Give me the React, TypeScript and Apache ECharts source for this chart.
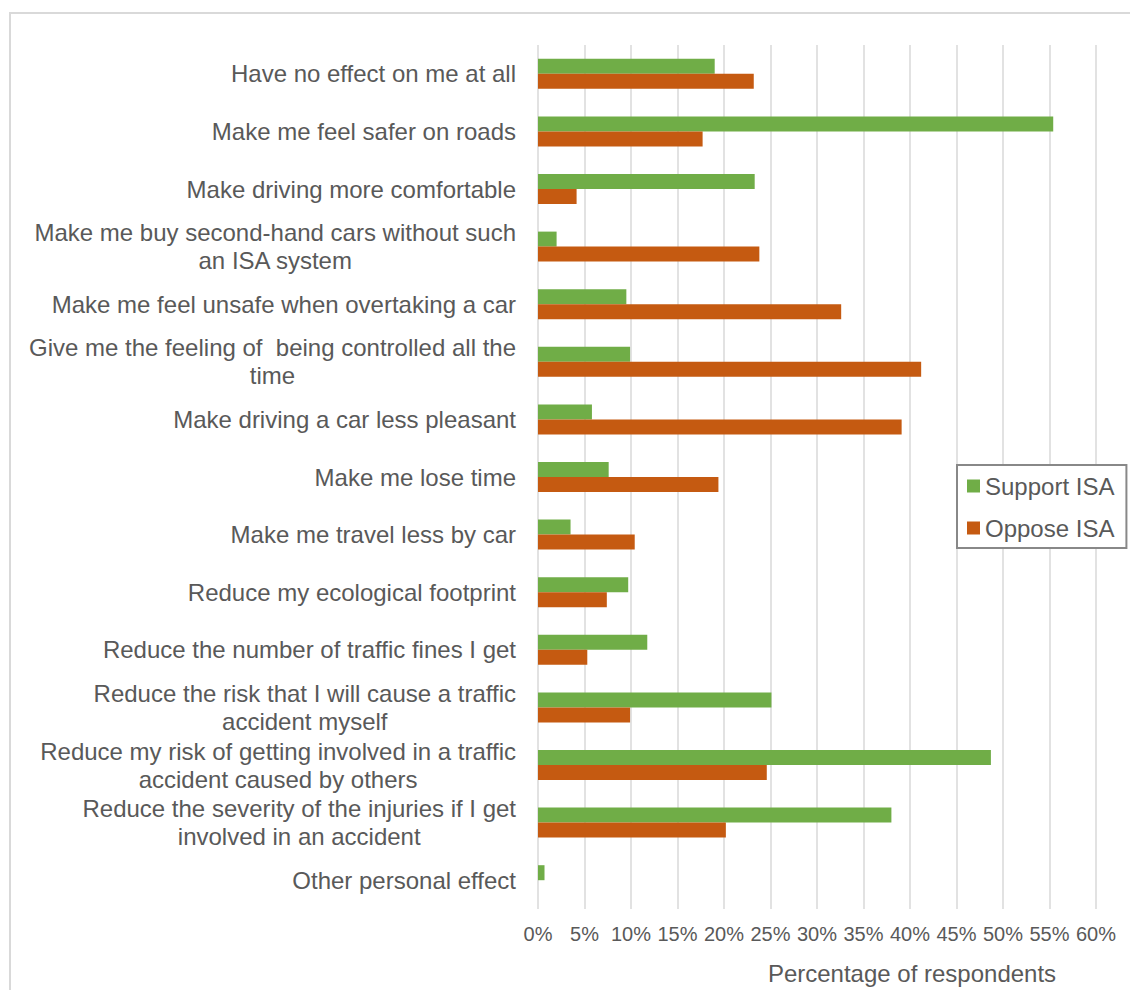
import React, { useEffect, useRef } from "react";
import * as echarts from "echarts";

const categories = [
  "Have no effect on me at all",
  "Make me feel safer on roads",
  "Make driving more comfortable",
  "Make me buy second-hand cars without such\nan ISA system",
  "Make me feel unsafe when overtaking a car",
  "Give me the feeling of  being controlled all the\ntime",
  "Make driving a car less pleasant",
  "Make me lose time",
  "Make me travel less by car",
  "Reduce my ecological footprint",
  "Reduce the number of traffic fines I get",
  "Reduce the risk that I will cause a traffic\naccident myself",
  "Reduce my risk of getting involved in a traffic\naccident caused by others",
  "Reduce the severity of the injuries if I get\ninvolved in an accident",
  "Other personal effect",
];

const supportISA = [19.0, 55.4, 23.3, 2.0, 9.5, 9.9, 5.8, 7.6, 3.5, 9.7, 11.75, 25.1, 48.7, 38.0, 0.7];
const opposeISA = [23.2, 17.7, 4.15, 23.8, 32.6, 41.2, 39.1, 19.4, 10.4, 7.4, 5.3, 9.9, 24.6, 20.2, 0];

const seriesNames = ["Support ISA", "Oppose ISA"];
const axisTitle = "Percentage of respondents";

export default function App() {
  const ref = useRef<HTMLDivElement>(null);
  useEffect(() => {
    document.body.style.margin = "0";
    const chart = echarts.init(ref.current!, undefined, { renderer: "svg" });
    const font = "Liberation Sans, Arial, sans-serif";
    chart.setOption({
      animation: false,
      textStyle: { fontFamily: font },
      grid: { left: 538, right: 34, top: 45, bottom: 81 },
      legend: {
        orient: "vertical",
        left: 957,
        top: 465,
        backgroundColor: "#fff",
        borderColor: "#888888",
        borderWidth: 2,
        borderRadius: 0,
        padding: [9, 12, 8, 10],
        itemGap: 18,
        itemWidth: 13,
        itemHeight: 13,
        icon: "rect",
        data: seriesNames,
        textStyle: { fontSize: 24, color: "#595959", fontFamily: font },
      },
      xAxis: {
        type: "value",
        min: 0,
        max: 60,
        interval: 5,
        axisLine: { show: false },
        axisTick: { show: false },
        splitLine: { show: true, lineStyle: { color: "#d9d9d9", width: 1.5 } },
        axisLabel: {
          formatter: "{value}%",
          fontSize: 20,
          color: "#595959",
          margin: 15,
          fontFamily: font,
          hideOverlap: false,
        },
      },
      yAxis: {
        type: "category",
        inverse: true,
        data: categories,
        axisLine: { show: false },
        axisTick: { show: false },
        axisLabel: {
          color: "#595959",
          margin: 22,
          align: "right",
          fontFamily: font,
          formatter: (v: string) =>
            v
              .split("\n")
              .map((l) => `{c|${l}}`)
              .join("\n"),
          rich: {
            c: {
              fontSize: 24,
              lineHeight: 28,
              color: "#595959",
              fontFamily: font,
              align: "center",
            },
          },
        },
      },
      series: [
        {
          name: seriesNames[0],
          type: "bar",
          data: supportISA,
          barWidth: 15,
          barGap: "0%",
          itemStyle: { color: "#70AD47" },
        },
        {
          name: seriesNames[1],
          type: "bar",
          data: opposeISA,
          barWidth: 15,
          barGap: "0%",
          itemStyle: { color: "#C55A11" },
        },
      ],
      graphic: [
        {
          type: "rect",
          shape: { x: 10, y: 13, width: 1140, height: 1000 },
          style: { fill: "none", stroke: "#d9d9d9", lineWidth: 2 },
          silent: true,
          z: -10,
        },
        {
          type: "text",
          x: 912,
          y: 973,
          style: {
            text: axisTitle,
            fontSize: 24,
            fill: "#595959",
            fontFamily: font,
            textAlign: "center",
            textVerticalAlign: "middle",
          },
        },
      ],
    });
    return () => chart.dispose();
  }, []);
  return <div ref={ref} style={{ width: 1130, height: 990 }} />;
}
